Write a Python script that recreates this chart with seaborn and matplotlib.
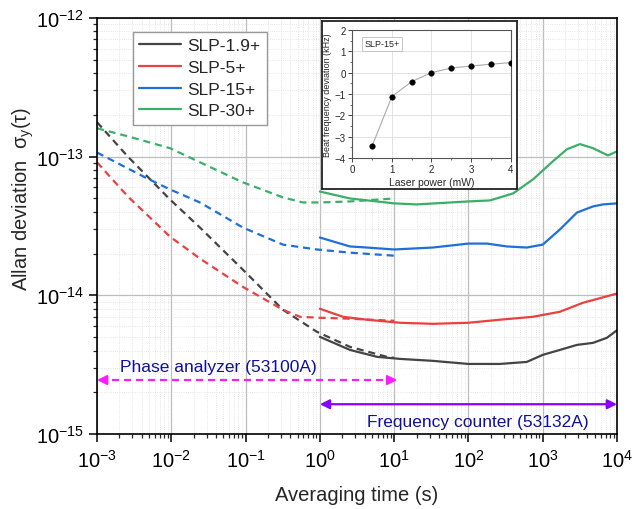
import numpy as np
import pandas as pd
import matplotlib
matplotlib.use("Agg")
import matplotlib.pyplot as plt
import seaborn as sns
from matplotlib.ticker import NullFormatter, MultipleLocator

# ---- data ----
labels = ["SLP-1.9+", "SLP-5+", "SLP-15+", "SLP-30+"]
colors = ["#444444", "#E8413F", "#1E6FD9", "#3BAF6A"]

# phase analyzer (dashed), 1 ms .. 10 s
tau_pa_19 = [1e-3, 2.6e-3, 9.6e-3, 0.0243, 0.092, 0.318, 0.91, 2.54, 8.0, 10]
sig_pa_19 = [1.77e-13, 1.0e-13, 4.91e-14, 3.08e-14, 1.53e-14, 7.87e-15, 5.46e-15, 4.25e-15, 3.6e-15, 3.54e-15]
tau_pa_5 = [1e-3, 2.6e-3, 9.6e-3, 0.0243, 0.092, 0.318, 0.54, 1.0, 2.54, 10]
sig_pa_5 = [9.1e-14, 5.16e-14, 2.65e-14, 1.84e-14, 1.15e-14, 7.87e-15, 7.0e-15, 6.89e-15, 6.78e-15, 6.55e-15]
tau_pa_15 = [1e-3, 4.4e-3, 9.6e-3, 0.0243, 0.092, 0.318, 0.91, 2.54, 10]
sig_pa_15 = [1.07e-13, 7.1e-14, 5.8e-14, 4.67e-14, 3.08e-14, 2.32e-14, 2.14e-14, 2.03e-14, 1.93e-14]
tau_pa_30 = [1e-3, 2.6e-3, 9.6e-3, 0.0243, 0.09, 0.318, 0.59, 1.0, 2.54, 10]
sig_pa_30 = [1.6e-13, 1.4e-13, 1.15e-13, 9.1e-14, 6.55e-14, 5.08e-14, 4.67e-14, 4.67e-14, 4.75e-14, 4.99e-14]

# frequency counter (solid), 1 s .. 10^4 s
tau_fc_19 = [1, 2.54, 5.9, 12, 33, 100, 265, 610, 1000, 1700, 2890, 4740, 7310, 1e4]
sig_fc_19 = [5.02e-15, 4.04e-15, 3.6e-15, 3.48e-15, 3.37e-15, 3.2e-15, 3.2e-15, 3.31e-15,
             3.72e-15, 4.04e-15, 4.39e-15, 4.54e-15, 4.94e-15, 5.6e-15]
tau_fc_5 = [1, 2.05, 4.3, 12, 33, 100, 265, 740, 1700, 3470, 1e4]
sig_fc_5 = [8.0e-15, 7.0e-15, 6.67e-15, 6.34e-15, 6.23e-15, 6.34e-15, 6.67e-15, 7.0e-15,
            7.61e-15, 8.83e-15, 1.03e-14]
tau_fc_15 = [1, 2.54, 4.3, 10, 33, 100, 177, 330, 610, 1000, 1700, 2890, 4740, 6460, 1e4]
sig_fc_15 = [2.61e-14, 2.25e-14, 2.21e-14, 2.14e-14, 2.21e-14, 2.36e-14, 2.36e-14, 2.25e-14,
             2.21e-14, 2.32e-14, 2.98e-14, 3.95e-14, 4.37e-14, 4.52e-14, 4.6e-14]
tau_fc_30 = [1, 2.54, 10, 20, 100, 195, 400, 740, 1370, 2120, 3170, 4740, 7550, 1e4]
sig_fc_30 = [5.6e-14, 4.99e-14, 4.6e-14, 4.52e-14, 4.75e-14, 4.83e-14, 5.43e-14, 6.85e-14,
             9.25e-14, 1.13e-13, 1.23e-13, 1.15e-13, 1.02e-13, 1.09e-13]

# inset: beat frequency deviation vs laser power (SLP-15+)
power_mw = [0.5, 1.0, 1.5, 2.0, 2.5, 3.0, 3.5, 4.0]
beat_khz = [-3.44, -1.12, -0.42, 0.0, 0.22, 0.31, 0.40, 0.47]

x_decades = [-3, -2, -1, 0, 1, 2, 3, 4]
y_decades = [-15, -14, -13, -12]

# ---- style ----
sns.set_theme(style="white")
plt.rcParams["font.family"] = ["Liberation Sans", "DejaVu Sans"]
plt.rcParams["mathtext.default"] = "regular"

fig = plt.figure(figsize=(6.32, 5.10), dpi=100)
ax = fig.add_axes([0.1535, 0.147, 0.8228, 0.816])

pa = [(tau_pa_19, sig_pa_19), (tau_pa_5, sig_pa_5), (tau_pa_15, sig_pa_15), (tau_pa_30, sig_pa_30)]
fc = [(tau_fc_19, sig_fc_19), (tau_fc_5, sig_fc_5), (tau_fc_15, sig_fc_15), (tau_fc_30, sig_fc_30)]

for (t, s), c in zip(pa, colors):
    df = pd.DataFrame({"tau": t, "sigma": s})
    sns.lineplot(data=df, x="tau", y="sigma", ax=ax, color=c, lw=1.6,
                 linestyle=(0, (3.2, 2.2)), sort=False, estimator=None)
for (t, s), c, lab in zip(fc, colors, labels):
    df = pd.DataFrame({"tau": t, "sigma": s})
    sns.lineplot(data=df, x="tau", y="sigma", ax=ax, color=c, lw=1.6,
                 label=lab, sort=False, estimator=None)

ax.set_xscale("log")
ax.set_yscale("log")
ax.set_xlim(1e-3, 1e4)
ax.set_ylim(1e-15, 1e-12)

# fixed ticks, only inside the view
ax.set_xticks([10.0 ** k for k in x_decades])
ax.set_yticks([10.0 ** k for k in y_decades])
ax.set_xticks([m * 10.0 ** k for k in x_decades[:-1] for m in range(2, 10)], minor=True)
ax.set_yticks([m * 10.0 ** k for k in y_decades[:-1] for m in range(2, 10)], minor=True)
ax.xaxis.set_minor_formatter(NullFormatter())
ax.yaxis.set_minor_formatter(NullFormatter())

ax.grid(which="major", color="#BDBDBD", lw=0.9)
ax.grid(which="minor", color="#DDDDDD", lw=0.6, linestyle=":")
ax.set_axisbelow(True)
for sp in ax.spines.values():
    sp.set_color("black")
    sp.set_linewidth(1.2)
ax.tick_params(which="major", direction="out", length=6, width=1.1, labelsize=14.5,
               bottom=True, left=True, colors="black")
ax.tick_params(which="minor", direction="out", length=3, width=0.9,
               bottom=True, left=True)
ax.tick_params(axis="x", pad=5)

ax.set_xlabel("Averaging time (s)", fontsize=14.5, labelpad=10)
ax.set_ylabel(r"Allan deviation  $\sigma_y(\tau)$", fontsize=14.5)
ax.yaxis.set_label_coords(-0.118, 0.567)

leg = ax.legend(loc="upper left", bbox_to_anchor=(0.069, 0.966), borderaxespad=0,
                fontsize=12.5, frameon=True, fancybox=False, framealpha=1,
                edgecolor="#999999", handlelength=2.4, handletextpad=0.4,
                borderpad=0.35, labelspacing=0.38)
leg.get_frame().set_linewidth(1.0)

# measurement ranges
y_pa = 2.45e-15
y_fc = 1.64e-15
ax.plot([1.1e-3, 9.0], [y_pa, y_pa], color="#FF1AFF", lw=1.6, linestyle=(0, (3.2, 2.2)))
for a, b in [(1.25e-3, 1e-3), (8.0, 11.0)]:
    ax.annotate("", xy=(b, y_pa), xytext=(a, y_pa),
                arrowprops=dict(arrowstyle="-|>", color="#FF1AFF", lw=1.6,
                                mutation_scale=14, shrinkA=0, shrinkB=0))
ax.annotate("", xy=(1e4, y_fc), xytext=(1, y_fc),
            arrowprops=dict(arrowstyle="<|-|>", color="#8A00FF", lw=1.6,
                            mutation_scale=14, shrinkA=0, shrinkB=0))
ax.text(0.043, 3.05e-15, "Phase analyzer (53100A)", color="#10109A", fontsize=12.5,
        ha="center", va="center")
ax.text(135, 1.24e-15, "Frequency counter (53132A)", color="#10109A", fontsize=12.5,
        ha="center", va="center")

# inset frame + inset axes
frame = fig.add_axes([0.509, 0.6275, 0.3085, 0.3288])
frame.set_xticks([])
frame.set_yticks([])
frame.set_facecolor("white")
for sp in frame.spines.values():
    sp.set_color("#222222")
    sp.set_linewidth(1.3)

ins = fig.add_axes([0.5574, 0.6882, 0.2506, 0.251])
ins_df = pd.DataFrame({"power": power_mw, "beat": beat_khz})
sns.lineplot(data=ins_df, x="power", y="beat", ax=ins, color="#AAAAAA", lw=0.8)
sns.scatterplot(data=ins_df, x="power", y="beat", ax=ins, color="black", s=16,
                edgecolor="black", zorder=3)
ins.set_xlim(0, 4)
ins.set_ylim(-4, 2)
ins.xaxis.set_major_locator(MultipleLocator(1))
ins.xaxis.set_minor_locator(MultipleLocator(0.5))
ins.yaxis.set_major_locator(MultipleLocator(1))
ins.yaxis.set_minor_locator(MultipleLocator(0.5))
ins.grid(which="major", color="#DDDDDD", lw=0.6)
ins.set_axisbelow(True)
for sp in ins.spines.values():
    sp.set_color("#555555")
    sp.set_linewidth(0.8)
ins.tick_params(which="major", direction="out", length=3, width=0.6, labelsize=7,
                bottom=True, left=True, pad=1.5)
ins.tick_params(which="minor", direction="out", length=1.5, width=0.5,
                bottom=True, left=True)
ins.set_xlabel("Laser power (mW)", fontsize=7.5, labelpad=2)
ins.set_ylabel("Beat frequency deviation (kHz)", fontsize=6.5, labelpad=2)
ins.text(0.3, 1.35, "SLP-15+", fontsize=6.5, va="center",
         bbox=dict(boxstyle="square,pad=0.25", fc="white", ec="#BBBBBB", lw=0.6))

fig.savefig("out.png", dpi=100)
